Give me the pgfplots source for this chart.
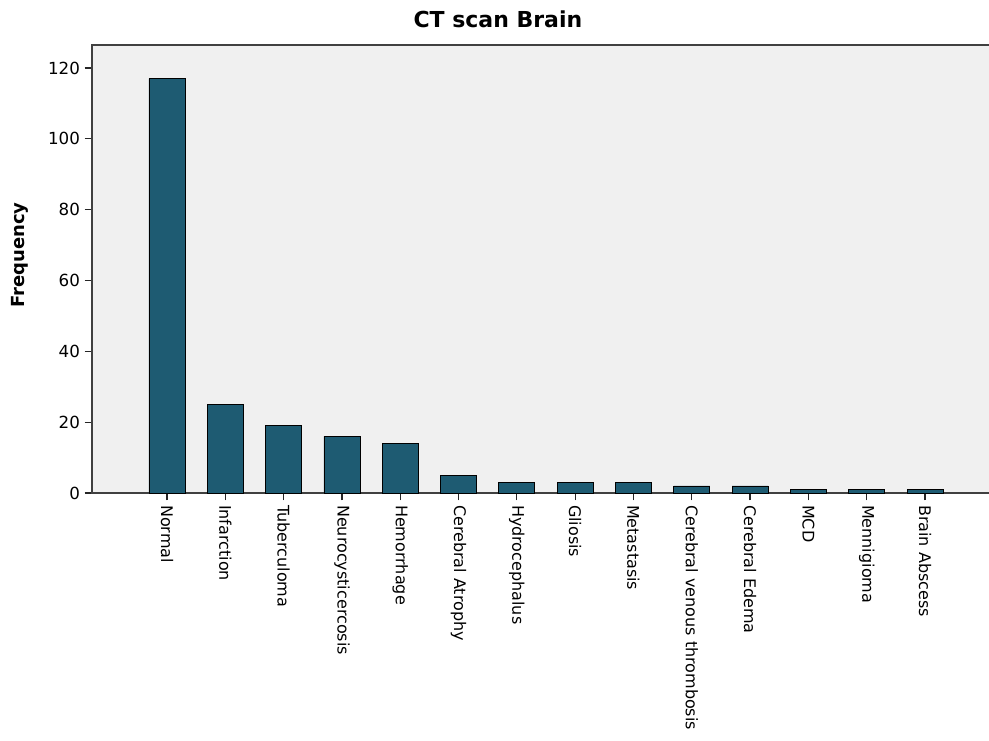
\documentclass[border=0pt]{standalone}
\usepackage{pgfplots}
\pgfplotsset{compat=1.18}
\usepackage{fontspec}
\setmainfont{DejaVu Sans}
\definecolor{barc}{HTML}{1E5B72}
\definecolor{bgc}{HTML}{F0F0F0}
\begin{document}
\begin{tikzpicture}
\begin{axis}[name=ax, at={(0,0)}, anchor=south west, scale only axis,
 width=675pt, height=336pt,
 xmin=-1.286, xmax=14.149, ymin=0, ymax=126.5,
 axis background/.style={fill=bgc},
 axis line style={draw=black!75, line width=0.9pt},
 xtick={0,...,13},
 xticklabels={Normal,Infarction,Tuberculoma,Neurocysticercosis,Hemorrhage,Cerebral Atrophy,Hydrocephalus,Gliosis,Metastasis,Cerebral venous thrombosis,Cerebral Edema,MCD,Mennigioma,Brain Abscess},
 x tick label style={rotate=-90, anchor=west, font=\fontsize{12}{13}\selectfont},
 ytick={0,20,...,120},
 y tick label style={font=\fontsize{12.5}{13}\selectfont},
 /pgf/number format/assume math mode=true,
 tick align=outside, major tick length=5.5pt, tick style={black!85, line width=0.9pt},
 xtick pos=bottom, ytick pos=left,
 title={CT scan Brain},
 title style={font=\bfseries\fontsize{16.5}{18}\selectfont, at={(axis description cs:0.451,1)}, anchor=south, yshift=3pt},
 ylabel={Frequency},
 ylabel style={font=\bfseries\fontsize{13.5}{15}\selectfont, at={(axis description cs:-0.0804,0.531)}, anchor=center},
 clip=false
]
\addplot[ybar, bar width=27pt, fill=barc, draw=black, line width=0.6pt] coordinates {
(0,117) (1,25) (2,19) (3,16) (4,14) (5,5) (6,3) (7,3) (8,3) (9,2) (10,2) (11,1) (12,1) (13,1)};
\end{axis}
\pgfresetboundingbox
\path[use as bounding box] (-69pt,-185.25pt) rectangle (672.75pt,369.75pt);
\end{tikzpicture}
\end{document}
